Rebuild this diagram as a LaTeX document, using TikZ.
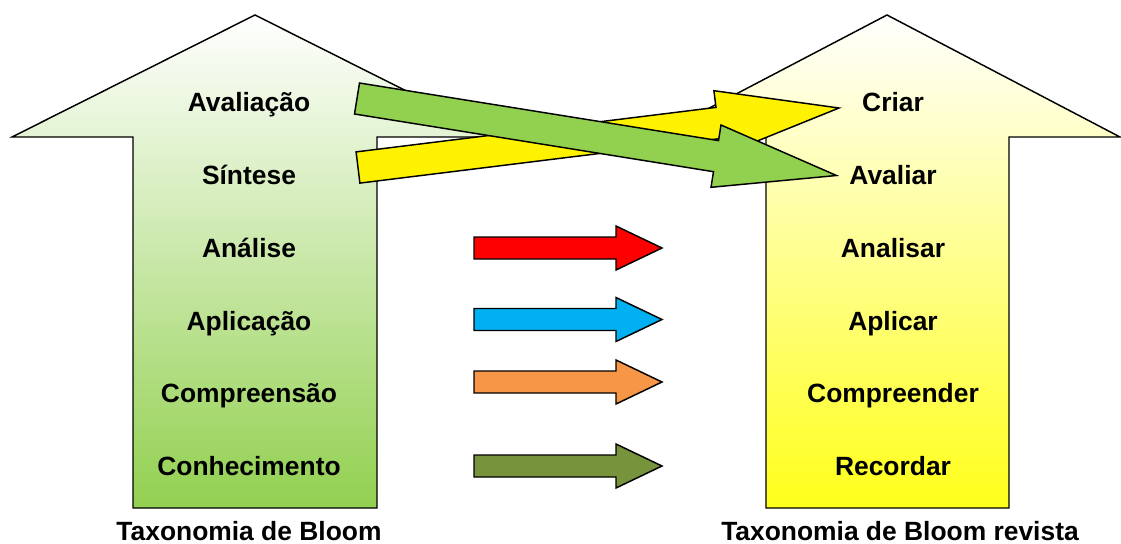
\documentclass[tikz,border=0pt]{standalone}
\usepackage{fontspec}
\setmainfont{Liberation Sans}
\begin{document}
\begin{tikzpicture}[x=0.75pt,y=-0.75pt,
  lbl/.style={font=\fontsize{19.8}{24}\selectfont\bfseries, anchor=base, inner sep=0pt},
  blk/.style={draw=black, line width=1.1pt, line join=miter},
]
\definecolor{gA}{HTML}{92D050}
\definecolor{yA}{HTML}{FFFF1A}
\definecolor{rA}{HTML}{FF0000}
\definecolor{bA}{HTML}{00B0F0}
\definecolor{oA}{HTML}{F79646}
\definecolor{vA}{HTML}{77933C}
\useasboundingbox (0,0) rectangle (1121,543);
% big arrows
\draw[blk, top color=white, bottom color=gA]
  (255,15) -- (498,137) -- (377,137) -- (377,508) -- (133,508) -- (133,137) -- (12,137) -- cycle;
\draw[blk, top color=white, bottom color=yA]
  (887,15) -- (1120,137) -- (1009,137) -- (1009,508) -- (766,508) -- (766,137) -- (654,137) -- cycle;
% labels
\node[lbl] (l1) at (249,111) {Avaliação};
\node[lbl] (l2) at (249,184) {Síntese};
\node[lbl] (l3) at (249,257) {Análise};
\node[lbl] (l4) at (249,330) {Aplicação};
\node[lbl] (l5) at (249,402) {Compreensão};
\node[lbl] (l6) at (249,475) {Conhecimento};
\node[lbl] (r1) at (893,111) {Criar};
\node[lbl] (r2) at (893,184) {Avaliar};
\node[lbl] (r3) at (893,257) {Analisar};
\node[lbl] (r4) at (893,330) {Aplicar};
\node[lbl] (r5) at (893,402) {Compreender};
\node[lbl] (r6) at (893,475) {Recordar};
\node[lbl] (tl) at (249,540) {Taxonomia de Bloom};
\node[lbl] (tr) at (900,540) {Taxonomia de Bloom revista};
% tilted arrows
\draw[blk, fill=yellow]
  (356.1,151.9) -- (716.0,107.4) -- (713.9,90.7) -- (839,108) -- (721.9,155.3) -- (719.8,138.6) -- (359.9,183.1) -- cycle;
\draw[blk, fill=gA]
  (359.5,83.0) -- (718.5,140.6) -- (721.0,125.0) -- (836.5,175.5) -- (711.0,187.3) -- (713.5,171.7) -- (354.5,114.0) -- cycle;
% horizontal arrows
\foreach \yy/\cc in {248/rA, 319.5/bA, 382/oA, 466/vA}{
  \draw[blk, fill=\cc]
    (474,\yy-11) -- (616,\yy-11) -- (616,\yy-22) -- (662,\yy) -- (616,\yy+22) -- (616,\yy+11) -- (474,\yy+11) -- cycle;
}
\end{tikzpicture}
\end{document}
